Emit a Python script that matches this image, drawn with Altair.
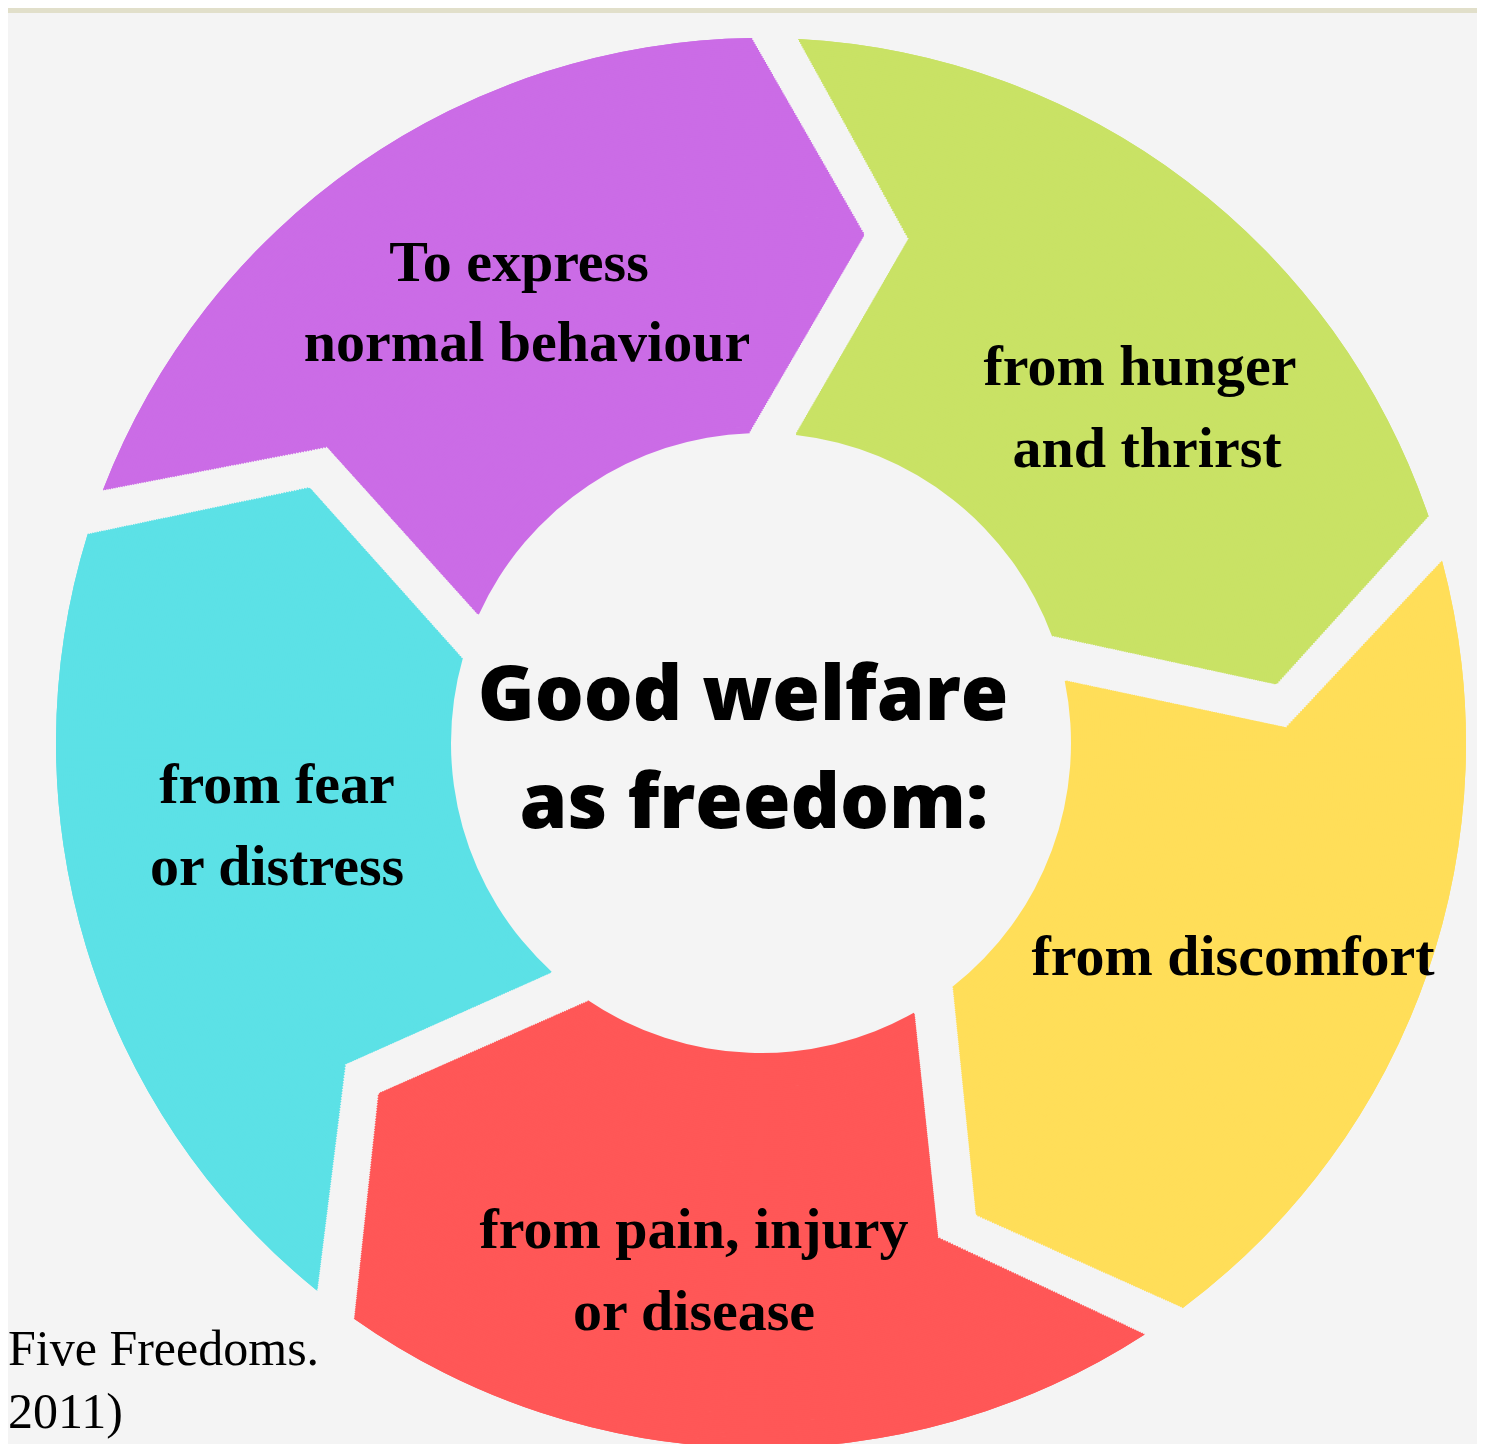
import numpy as np
import pandas as pd
import altair as alt

# ---------------- data ----------------
freedoms = [
    "from hunger and thrirst",
    "from discomfort",
    "from pain, injury or disease",
    "from fear or distress",
    "To express normal behaviour",
]
colors = ["#c9e265", "#ffde59", "#ff5757", "#5ce1e6", "#cb6ce6"]
shares = [1, 1, 1, 1, 1]
label_lines = [
    ["from hunger", "and thrirst"],
    ["from discomfort"],
    ["from pain, injury", "or disease"],
    ["from fear", "or distress"],
    ["To express", "normal behaviour"],
]
center_lines = ["Good welfare", "as freedom:"]
source_lines = ["Five Freedoms.", "2011)"]

# ---------------- layout (page pixels) ----------------
M = 8                      # page margin
W, H = 1469, 1436
CX, CY = 761, 743          # ring centre
R_IN, R_OUT = 310, 705
START_DEG = 16.3           # notch angle of first segment
# chevron shape relative to notch angle (radius, degrees)
START_EDGE = [(R_OUT, -13.3), (525, 0.0), (R_IN, -9.9)]
END_EDGE = [(R_OUT, 54.9), (518, 67.2), (R_IN, 53.5)]

label_pos = [
    [(1140, 385), (1147, 467)],
    [(1233, 975)],
    [(694, 1248), (694, 1330)],
    [(277, 803), (277, 885)],
    [(519, 281), (527, 361)],
]
center_pos = [(743, 720), (754, 828)]
source_pos = [(8, 1365), (8, 1428)]


def edge_angle(r_query, poly):
    xs, ys = [], []
    for (r1, a1), (r2, a2) in zip(poly[:-1], poly[1:]):
        p1 = np.array([r1 * np.sin(np.radians(a1)), r1 * np.cos(np.radians(a1))])
        p2 = np.array([r2 * np.sin(np.radians(a2)), r2 * np.cos(np.radians(a2))])
        t = np.linspace(0, 1, 400)
        pts = p1[None, :] + (p2 - p1)[None, :] * t[:, None]
        xs.append(pts[:, 0])
        ys.append(pts[:, 1])
    x = np.concatenate(xs)
    y = np.concatenate(ys)
    r = np.hypot(x, y)
    a = np.degrees(np.arctan2(x, y))
    order = np.argsort(r)
    return np.interp(r_query, r[order], a[order])


total = float(sum(shares))
rows = []
acc = 0.0
step = 2.0
for name, share in zip(freedoms, shares):
    span = 360.0 * share / total
    notch = START_DEG + acc
    acc += span
    r0 = float(R_IN)
    while r0 < R_OUT:
        r1 = min(r0 + step, R_OUT)
        rm = (r0 + r1) / 2
        a0 = notch + edge_angle(rm, START_EDGE)
        a1 = notch + (span - 72.0) + edge_angle(rm, END_EDGE)
        rows.append({
            "freedom": name,
            "t0": np.radians(a0),
            "t1": np.radians(a1),
            "r_in": r0,
            "r_out": min(r1 + 1.0, R_OUT),
        })
        r0 = r1
bands = pd.DataFrame(rows)

lab_rows = []
for lines, poss in zip(label_lines, label_pos):
    for txt, (px, py) in zip(lines, poss):
        lab_rows.append({"text": txt, "x": px - M, "y": py - M})
labels_df = pd.DataFrame(lab_rows)
center_df = pd.DataFrame([{"text": t, "x": p[0] - M, "y": p[1] - M}
                          for t, p in zip(center_lines, center_pos)])
source_df = pd.DataFrame([{"text": t, "x": p[0] - M, "y": p[1] - M}
                          for t, p in zip(source_lines, source_pos)])

strip = alt.Chart(pd.DataFrame({"a": [0]})).mark_rect(color="#e1dfca").encode(
    x=alt.value(0), x2=alt.value(W), y=alt.value(0), y2=alt.value(5)
)

arcs = alt.Chart(bands).mark_arc().encode(
    x=alt.value(CX - M),
    y=alt.value(CY - M),
    theta=alt.Theta("t0:Q", scale=None, stack=False),
    theta2="t1:Q",
    radius=alt.Radius("r_out:Q", scale=None),
    radius2="r_in:Q",
    color=alt.Color("freedom:N", scale=alt.Scale(domain=freedoms, range=colors), legend=None),
)

labels = alt.Chart(labels_df).mark_text(
    font="Liberation Serif", fontWeight="bold", fontSize=58, color="#000000",
    align="center", baseline="alphabetic"
).encode(x=alt.X("x:Q", scale=None), y=alt.Y("y:Q", scale=None), text="text:N")

center = alt.Chart(center_df).mark_text(
    font="Open Sans", fontWeight=800, fontSize=77, color="#000000",
    align="center", baseline="alphabetic"
).encode(x=alt.X("x:Q", scale=None), y=alt.Y("y:Q", scale=None), text="text:N")

source = alt.Chart(source_df).mark_text(
    font="Liberation Serif", fontSize=50, color="#000000",
    align="left", baseline="alphabetic"
).encode(x=alt.X("x:Q", scale=None), y=alt.Y("y:Q", scale=None), text="text:N")

chart = alt.layer(strip, arcs, labels, center, source).properties(
    width=W, height=H, padding=0, autosize="none", background="#f4f4f4"
).configure_view(stroke=None)

chart.save("out.html", embed_options={"renderer": "svg", "actions": False})
